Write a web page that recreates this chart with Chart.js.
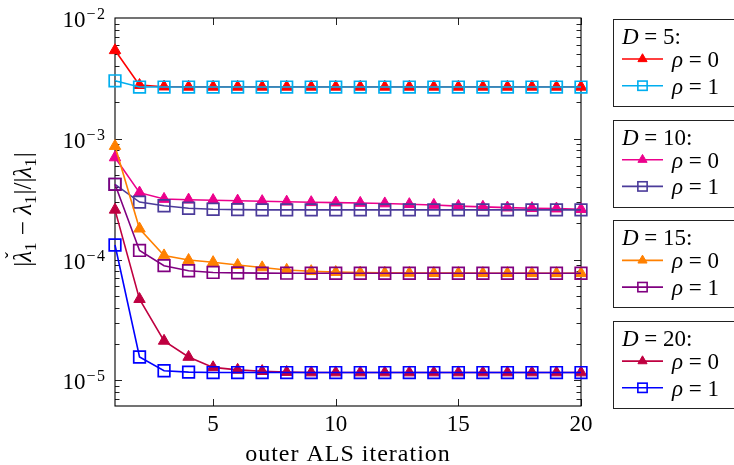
<!DOCTYPE html>
<html>
<head>
<meta charset="utf-8">
<title>ALS convergence</title>
<script src="https://cdn.jsdelivr.net/npm/chart.js@4/dist/chart.umd.min.js"></script>
<style>
    html, body { margin: 0; padding: 0; background: #fff; }
    canvas { display: block; }
</style>
</head>
<body>
<canvas id="alsChart" width="734" height="465"></canvas>
<script>
// Relative eigenvalue error per outer ALS iteration, for each bond dimension D
const iterations = [1, 2, 3, 4, 5, 6, 7, 8, 9, 10, 11, 12, 13, 14, 15, 16, 17, 18, 19, 20];

const d5Rho0 = [5.4e-3, 2.78e-3, 2.70e-3, 2.69e-3, 2.69e-3, 2.69e-3, 2.69e-3, 2.69e-3, 2.69e-3, 2.69e-3,
                2.69e-3, 2.69e-3, 2.69e-3, 2.69e-3, 2.69e-3, 2.69e-3, 2.69e-3, 2.69e-3, 2.69e-3, 2.69e-3];
const d5Rho1 = [3.02e-3, 2.68e-3, 2.68e-3, 2.68e-3, 2.68e-3, 2.68e-3, 2.68e-3, 2.68e-3, 2.68e-3, 2.68e-3,
                2.68e-3, 2.68e-3, 2.68e-3, 2.68e-3, 2.68e-3, 2.68e-3, 2.68e-3, 2.68e-3, 2.68e-3, 2.68e-3];

const d10Rho0 = [7.0e-4, 3.58e-4, 3.17e-4, 3.13e-4, 3.10e-4, 3.07e-4, 3.04e-4, 3.01e-4, 2.98e-4, 2.96e-4,
                 2.94e-4, 2.91e-4, 2.87e-4, 2.83e-4, 2.77e-4, 2.73e-4, 2.69e-4, 2.66e-4, 2.64e-4, 2.61e-4];
const d10Rho1 = [4.2e-4, 2.99e-4, 2.79e-4, 2.66e-4, 2.61e-4, 2.59e-4, 2.58e-4, 2.58e-4, 2.58e-4, 2.58e-4,
                 2.58e-4, 2.58e-4, 2.58e-4, 2.58e-4, 2.58e-4, 2.58e-4, 2.58e-4, 2.58e-4, 2.58e-4, 2.58e-4];

const d15Rho0 = [8.7e-4, 1.80e-4, 1.08e-4, 9.9e-5, 9.5e-5, 9.0e-5, 8.6e-5, 8.2e-5, 8.0e-5, 7.87e-5,
                 7.80e-5, 7.76e-5, 7.74e-5, 7.72e-5, 7.72e-5, 7.71e-5, 7.71e-5, 7.70e-5, 7.70e-5, 7.70e-5];
const d15Rho1 = [4.2e-4, 1.19e-4, 8.9e-5, 8.08e-5, 7.82e-5, 7.75e-5, 7.72e-5, 7.71e-5, 7.70e-5, 7.70e-5,
                 7.70e-5, 7.70e-5, 7.70e-5, 7.70e-5, 7.70e-5, 7.70e-5, 7.70e-5, 7.70e-5, 7.70e-5, 7.70e-5];

const d20Rho0 = [2.58e-4, 4.70e-5, 2.12e-5, 1.56e-5, 1.28e-5, 1.22e-5, 1.19e-5, 1.17e-5, 1.16e-5, 1.16e-5,
                 1.16e-5, 1.16e-5, 1.16e-5, 1.16e-5, 1.16e-5, 1.16e-5, 1.16e-5, 1.16e-5, 1.16e-5, 1.16e-5];
const d20Rho1 = [1.32e-4, 1.56e-5, 1.20e-5, 1.17e-5, 1.16e-5, 1.16e-5, 1.16e-5, 1.16e-5, 1.16e-5, 1.16e-5,
                 1.16e-5, 1.16e-5, 1.16e-5, 1.16e-5, 1.16e-5, 1.16e-5, 1.16e-5, 1.16e-5, 1.16e-5, 1.16e-5];

const bondDims = [5, 10, 15, 20];
const rhoValues = [0, 1];
const xTickValues = [5, 10, 15, 20];
const yTickExponents = [-2, -3, -4, -5];
const xAxisTitle = 'outer ALS iteration';

// ---- styling ----
const FONT = '"Liberation Serif", "Times New Roman", Times, serif';
const TRI_R = 6.6;
const SQ_R = 8.2;
const seriesValues = [d5Rho0, d5Rho1, d10Rho0, d10Rho1, d15Rho0, d15Rho1, d20Rho0, d20Rho1];
const seriesColors = ['#ff0000', '#00aeef', '#ec008c', '#4b3b9a', '#ff8000', '#800080', '#bf0040', '#0000ff'];

const datasets = seriesValues.map((values, i) => {
    const isTriangle = i % 2 === 0;
    return {
        label: 'D=' + bondDims[i >> 1] + ', rho=' + rhoValues[i % 2],
        data: iterations.map((x, k) => ({ x: x, y: values[k] })),
        borderColor: seriesColors[i],
        borderWidth: 1.6,
        pointStyle: isTriangle ? 'triangle' : 'rect',
        pointRadius: isTriangle ? TRI_R : SQ_R,
        pointBorderWidth: isTriangle ? 1 : 1.7,
        pointBorderColor: seriesColors[i],
        pointBackgroundColor: isTriangle ? seriesColors[i] : 'rgba(0,0,0,0)',
        tension: 0,
        clip: false,
        // later series sit on top, as in the original plot
        order: seriesValues.length - i
    };
});

function drawMarker(ctx, x, y, i, scale) {
    const color = seriesColors[i];
    ctx.save();
    ctx.strokeStyle = color;
    ctx.fillStyle = color;
    if (i % 2 === 0) {
        const r = TRI_R * scale;
        ctx.lineWidth = 1;
        ctx.beginPath();
        ctx.moveTo(x, y - r);
        ctx.lineTo(x + r * Math.sin(Math.PI / 3), y + r / 2);
        ctx.lineTo(x - r * Math.sin(Math.PI / 3), y + r / 2);
        ctx.closePath();
        ctx.fill();
        ctx.stroke();
    } else {
        const s = SQ_R * Math.SQRT1_2 * scale;
        ctx.lineWidth = 1.6;
        ctx.strokeRect(x - s, y - s, 2 * s, 2 * s);
    }
    ctx.restore();
}

// draw "italic part" followed by roman rest, returns end x
function drawMathText(ctx, x, y, italicPart, rest, size) {
    ctx.font = 'italic ' + size + 'px ' + FONT;
    ctx.fillText(italicPart, x, y);
    x += ctx.measureText(italicPart).width;
    ctx.font = size + 'px ' + FONT;
    ctx.fillText(rest, x, y);
    return x + ctx.measureText(rest).width;
}

const pgfAxis = {
    id: 'pgfAxis',
    beforeDatasetsDraw(chart) {
        const { ctx, chartArea: a, scales: { x, y } } = chart;
        ctx.save();
        ctx.strokeStyle = '#222';
        ctx.lineWidth = 1;
        ctx.beginPath();
        // log minor ticks on both vertical sides
        for (let e = -6; e <= -3; e++) {
            for (let m = 1; m <= 9; m++) {
                const v = m * Math.pow(10, e);
                if (v < y.min || v > y.max) continue;
                const py = Math.round(y.getPixelForValue(v)) + 0.5;
                const len = m === 1 ? 7 : 4.5;
                ctx.moveTo(a.left, py); ctx.lineTo(a.left + len, py);
                ctx.moveTo(a.right, py); ctx.lineTo(a.right - len, py);
            }
        }
        xTickValues.forEach(v => {
            const px = Math.round(x.getPixelForValue(v)) + 0.5;
            ctx.moveTo(px, a.bottom); ctx.lineTo(px, a.bottom - 7);
            ctx.moveTo(px, a.top); ctx.lineTo(px, a.top + 7);
        });
        ctx.stroke();
        ctx.lineWidth = 1.1;
        ctx.strokeStyle = '#000';
        ctx.strokeRect(a.left, a.top, a.right - a.left, a.bottom - a.top);
        ctx.restore();
    },
    afterDraw(chart) {
        const { ctx, chartArea: a, scales: { x, y } } = chart;
        ctx.save();
        ctx.fillStyle = '#000';
        ctx.textBaseline = 'alphabetic';

        // x tick labels
        ctx.font = '23px ' + FONT;
        ctx.textAlign = 'center';
        xTickValues.forEach(v => {
            ctx.fillText(String(v), x.getPixelForValue(v), a.bottom + 25);
        });

        // y tick labels as 10^e
        yTickExponents.forEach(e => {
            const py = y.getPixelForValue(Math.pow(10, e));
            ctx.textAlign = 'right';
            ctx.font = '16px ' + FONT;
            const digit = String(Math.abs(e));
            const supRight = a.left - 10;
            ctx.fillText(digit, supRight, py + 1);
            const digitW = ctx.measureText(digit).width;
            ctx.fillText('\u2212', supRight - digitW - 1.5, py + 1);
            const supW = digitW + 1.5 + ctx.measureText('\u2212').width;
            ctx.font = '23px ' + FONT;
            ctx.fillText('10', supRight - supW - 1, py + 9);
        });

        // x axis title
        ctx.textAlign = 'center';
        ctx.font = '24px ' + FONT;
        ctx.letterSpacing = '1px';
        ctx.fillText(xAxisTitle, (a.left + a.right) / 2, 461);
        ctx.letterSpacing = '0px';

        // y axis title |λ̌1 − λ1|/|λ1|, rotated
        ctx.save();
        ctx.translate(31, 211);
        ctx.rotate(-Math.PI / 2);
        ctx.textAlign = 'left';
        const parts = [
            ['r', '|'], ['lc', '\u03bb'], ['s', '1'], ['r', ' \u2212 '],
            ['l', '\u03bb'], ['s', '1'], ['r', '|/|'], ['l', '\u03bb'], ['s', '1'], ['r', '|']
        ];
        const fontFor = t => t === 's' ? '17px ' + FONT : (t === 'r' ? '25px ' + FONT : 'italic 25px ' + FONT);
        let total = 0;
        parts.forEach(([t, s]) => { ctx.font = fontFor(t); total += ctx.measureText(s).width; });
        let cx = -total / 2;
        parts.forEach(([t, s]) => {
            ctx.font = fontFor(t);
            const w = ctx.measureText(s).width;
            ctx.fillText(s, cx, t === 's' ? 5 : 0);
            if (t === 'lc') {
                ctx.font = '19px ' + FONT;
                ctx.textAlign = 'center';
                ctx.fillText('\u02c7', cx + w / 2 + 1, -13);
                ctx.textAlign = 'left';
            }
            cx += w + (t === 's' ? 1 : 0);
        });
        ctx.restore();

        // four legend boxes, one per bond dimension
        bondDims.forEach((d, g) => {
            const top = 19 + g * 100.7;
            const left = 613;
            ctx.strokeStyle = '#222';
            ctx.lineWidth = 1;
            ctx.strokeRect(left + 0.5, Math.round(top) + 0.5, 140, 87);
            ctx.fillStyle = '#000';
            ctx.textAlign = 'left';
            drawMathText(ctx, 622, top + 25, 'D', ' = ' + d + ':', 23);
            rhoValues.forEach((rho, k) => {
                const i = g * 2 + k;
                const ly = top + 40 + k * 26.7;
                ctx.strokeStyle = seriesColors[i];
                ctx.lineWidth = 1.6;
                ctx.beginPath();
                ctx.moveTo(622, ly);
                ctx.lineTo(663, ly);
                ctx.stroke();
                drawMarker(ctx, 642.5, ly, i, 0.8);
                ctx.fillStyle = '#000';
                drawMathText(ctx, 672, ly + 8, '\u03c1', ' = ' + rho, 23);
            });
        });
        ctx.restore();
    }
};

function buildChart() {
    new Chart(document.getElementById('alsChart'), {
        type: 'line',
        data: { datasets: datasets },
        options: {
            responsive: false,
            animation: false,
            layout: { padding: { top: 18, right: 153, left: 0, bottom: 0 } },
            plugins: {
                legend: { display: false },
                tooltip: { enabled: false }
            },
            scales: {
                x: {
                    type: 'linear',
                    min: 1,
                    max: 20,
                    grid: { display: false },
                    border: { display: false },
                    ticks: { display: false },
                    afterFit(scale) { scale.height = 59; }
                },
                y: {
                    type: 'logarithmic',
                    min: 6.13e-6,
                    max: 1e-2,
                    grid: { display: false },
                    border: { display: false },
                    ticks: { display: false },
                    afterFit(scale) { scale.width = 115; }
                }
            }
        },
        plugins: [pgfAxis]
    });
}

// make sure the serif faces are ready before the canvas text is drawn
Promise.all([
    document.fonts.load('23px "Liberation Serif"'),
    document.fonts.load('italic 23px "Liberation Serif"')
]).then(buildChart, buildChart);
</script>
</body>
</html>
